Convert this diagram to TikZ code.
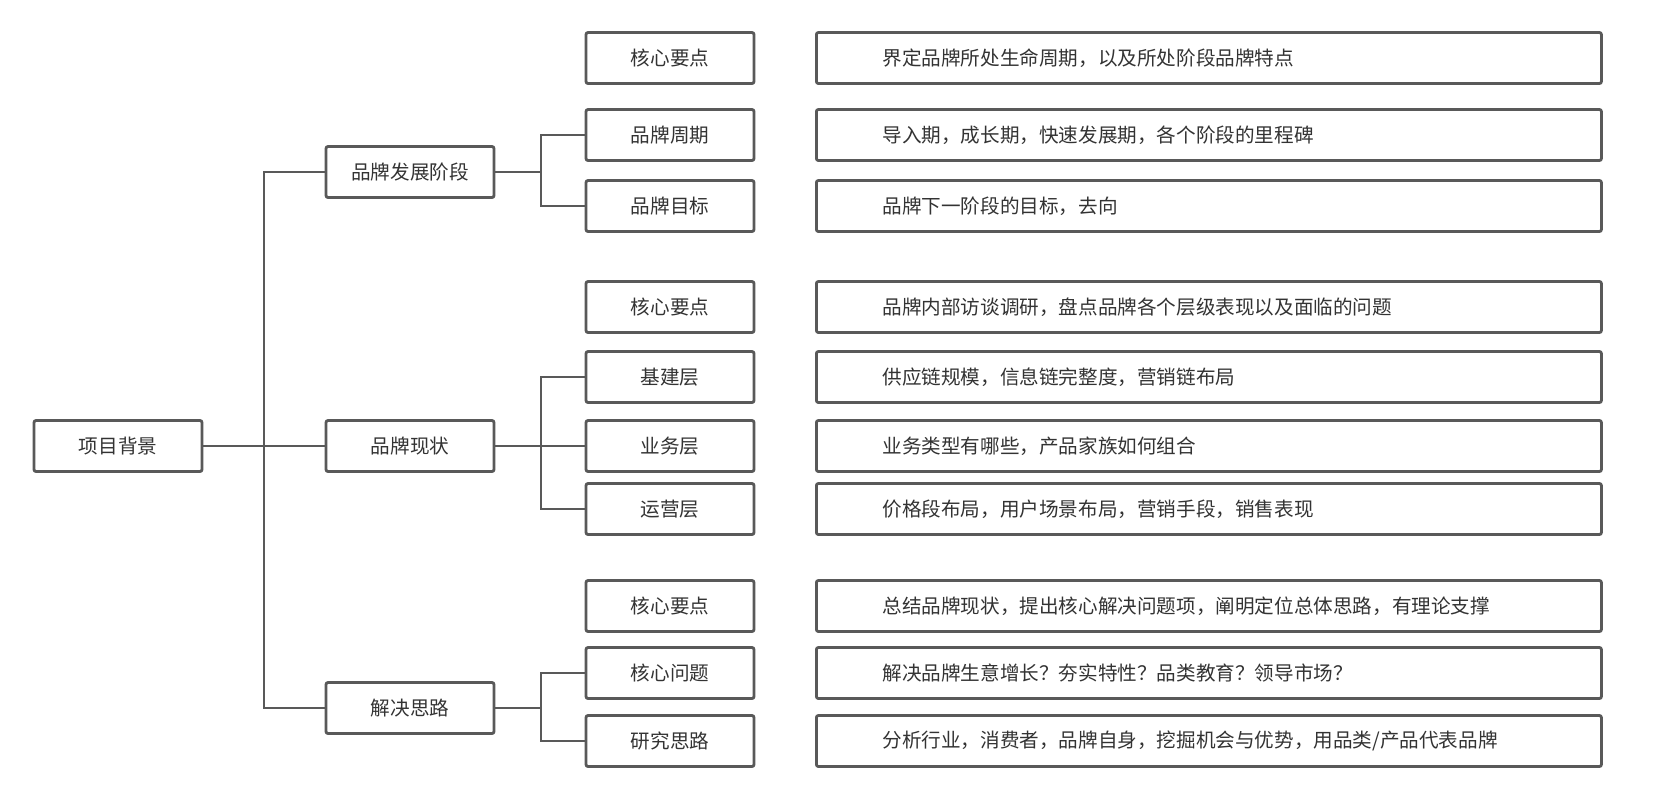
\documentclass[tikz,border=0pt]{standalone}
\usepackage{fontspec}
\newfontfamily\cjk{Noto Sans CJK SC}
\definecolor{linegray}{HTML}{595959}
\definecolor{textgray}{HTML}{333333}

\begin{document}
\begin{tikzpicture}[x=0.5pt,y=-0.5pt,
  box/.style={draw=linegray,line width=1.4pt,rounded corners=1pt,fill=white,
    minimum width=84pt,minimum height=25.5pt,inner sep=0pt,
    font=\cjk\fontsize{9.8}{12}\selectfont,text=textgray},
  descbox/.style={box,minimum width=0pt,text width=326.5pt,inner xsep=33pt,align=left,anchor=west},
  link/.style={draw=linegray,line width=1.4pt}]
\useasboundingbox (0,0) rectangle (1666,789);
% root and first level
\node[box] (bg) at (118,446) {项目背景};
\node[box] (stage) at (410,172) {品牌发展阶段};
\node[box] (status) at (410,446) {品牌现状};
\node[box] (plan) at (410,708) {解决思路};
% second level
\node[box] (stage-key) at (670,58) {核心要点};
\node[box] (stage-cycle) at (670,135) {品牌周期};
\node[box] (stage-goal) at (670,206) {品牌目标};
\node[box] (status-key) at (670,307) {核心要点};
\node[box] (status-base) at (670,377) {基建层};
\node[box] (status-biz) at (670,446) {业务层};
\node[box] (status-ops) at (670,509) {运营层};
\node[box] (plan-key) at (670,606) {核心要点};
\node[box] (plan-issue) at (670,673) {核心问题};
\node[box] (plan-way) at (670,741) {研究思路};
% descriptions
\node[descbox] (stage-key-d) at (815,58) {界定品牌所处生命周期，以及所处阶段品牌特点};
\node[descbox] (stage-cycle-d) at (815,135) {导入期，成长期，快速发展期，各个阶段的里程碑};
\node[descbox] (stage-goal-d) at (815,206) {品牌下一阶段的目标，去向};
\node[descbox] (status-key-d) at (815,307) {品牌内部访谈调研，盘点品牌各个层级表现以及面临的问题};
\node[descbox] (status-base-d) at (815,377) {供应链规模，信息链完整度，营销链布局};
\node[descbox] (status-biz-d) at (815,446) {业务类型有哪些，产品家族如何组合};
\node[descbox] (status-ops-d) at (815,509) {价格段布局，用户场景布局，营销手段，销售表现};
\node[descbox] (plan-key-d) at (815,606) {总结品牌现状，提出核心解决问题项，阐明定位总体思路，有理论支撑};
\node[descbox] (plan-issue-d) at (815,673) {解决品牌生意增长？夯实特性？品类教育？领导市场？};
\node[descbox] (plan-way-d) at (815,741) {分析行业，消费者，品牌自身，挖掘机会与优势，用品类/产品代表品牌};
% connectors
\coordinate (trunk) at (264,446);
\coordinate (fork1) at (541,172);
\coordinate (fork2) at (541,446);
\coordinate (fork3) at (541,708);
\draw[link] (bg.east) -- (status.west);
\draw[link] (stage.west) -| (trunk) |- (plan.west);
\draw[link] (stage.east) -- (fork1);
\draw[link] (stage-cycle.west) -| (fork1) |- (stage-goal.west);
\draw[link] (status.east) -- (status-biz.west);
\draw[link] (status-base.west) -| (fork2) |- (status-ops.west);
\draw[link] (plan.east) -- (fork3);
\draw[link] (plan-issue.west) -| (fork3) |- (plan-way.west);
\end{tikzpicture}
\end{document}
